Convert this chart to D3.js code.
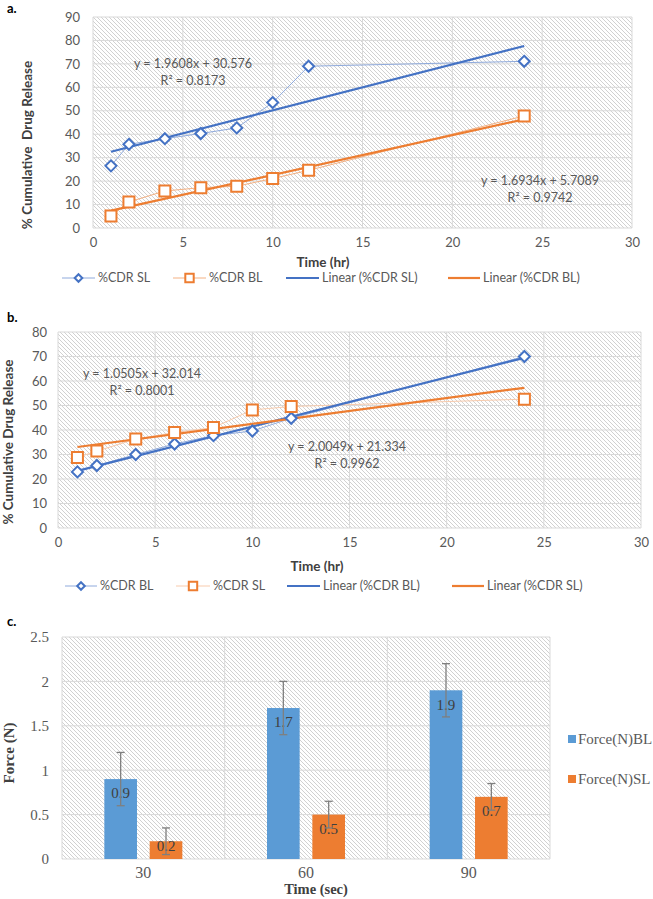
<!DOCTYPE html>
<html>
<head>
<meta charset="utf-8">
<script src="https://cdn.jsdelivr.net/npm/d3@7"></script>
<style>
  html, body { margin: 0; padding: 0; background: #fff; }
  svg { display: block; }
</style>
</head>
<body>
<svg id="chart" width="653" height="899"></svg>
<script>
// ---------- DATA ----------
// Panel a
const timeA = [1, 2, 4, 6, 8, 10, 12, 24];
const cdrSL_A = [26.5, 35.7, 38.1, 40.3, 42.7, 53.5, 69.0, 71.1];
const cdrBL_A = [5.1, 11.1, 15.8, 17.2, 17.8, 21.1, 24.6, 47.8];
const trendA = [
  { slope: 1.9608, intercept: 30.576, eq: "y = 1.9608x + 30.576", r2: "R² = 0.8173" },
  { slope: 1.6934, intercept: 5.7089, eq: "y = 1.6934x + 5.7089", r2: "R² = 0.9742" }
];
const legendA = ["%CDR SL", "%CDR BL", "Linear (%CDR SL)", "Linear (%CDR BL)"];

// Panel b
const timeB = [1, 2, 4, 6, 8, 10, 12, 24];
const cdrBL_B = [22.9, 25.5, 30.0, 34.3, 37.7, 39.6, 44.8, 70.0];
const cdrSL_B = [28.8, 31.4, 36.3, 39.0, 41.0, 48.2, 49.6, 52.6];
const trendB = [
  { slope: 2.0049, intercept: 21.334, eq: "y = 2.0049x + 21.334", r2: "R² = 0.9962" },
  { slope: 1.0505, intercept: 32.014, eq: "y = 1.0505x + 32.014", r2: "R² = 0.8001" }
];
const legendB = ["%CDR BL", "%CDR SL", "Linear (%CDR BL)", "Linear (%CDR SL)"];

const xTicksAB = [0, 5, 10, 15, 20, 25, 30];
const yTicksA = [0, 10, 20, 30, 40, 50, 60, 70, 80, 90];
const yTicksB = [0, 10, 20, 30, 40, 50, 60, 70, 80];

// Panel c
const timesC = ["30", "60", "90"];
const forceBL = [0.9, 1.7, 1.9];
const forceSL = [0.2, 0.5, 0.7];
const errBL = [0.3, 0.3, 0.3];
const errSL = [0.15, 0.15, 0.15];
const yTicksC = [0, 0.5, 1, 1.5, 2, 2.5];
const legendC = ["Force(N)BL", "Force(N)SL"];

// ---------- STYLE ----------
const BLUE = "#4472C4", ORANGE = "#ED7D31";
const BLUE_L = "#8FAADC", ORANGE_L = "#F4B183";
const BLUE_C = "#5B9BD5";
const TXT = "#595959";
const GRID = "#d9d9d9";
const SANS = "Lato, 'Open Sans', sans-serif";
const SERIF = "'Liberation Serif', 'DejaVu Serif', serif";

const svg = d3.select("#chart");
const defs = svg.append("defs");
const pat = defs.append("pattern").attr("id", "hatch")
  .attr("patternUnits", "userSpaceOnUse").attr("width", 4).attr("height", 4);
pat.append("rect").attr("width", 4).attr("height", 4).attr("fill", "#fff");
pat.append("path").attr("d", "M0,0 L4,4 M-1,3 L1,5 M3,-1 L5,1")
  .attr("stroke", "#cccccc").attr("stroke-width", 0.9);

function diamondPath(s) {
  return `M0,${-s} L${s},0 L0,${s} L${-s},0 Z`;
}
function squarePath(s) {
  return `M${-s},${-s} H${s} V${s} H${-s} Z`;
}

function scatterPanel(cfg) {
  const g = svg.append("g");
  const x = d3.scaleLinear().domain([0, 30]).range([cfg.left, cfg.right]);
  const y = d3.scaleLinear().domain([0, cfg.ymax]).range([cfg.bottom, cfg.top]);

  g.append("rect").attr("x", cfg.left).attr("y", cfg.top)
    .attr("width", cfg.right - cfg.left).attr("height", cfg.bottom - cfg.top)
    .attr("fill", "url(#hatch)");

  // gridlines
  g.append("g").selectAll("line").data(cfg.yTicks).join("line")
    .attr("x1", cfg.left).attr("x2", cfg.right)
    .attr("y1", d => y(d)).attr("y2", d => y(d))
    .attr("stroke", GRID).attr("stroke-width", 1);
  g.append("g").selectAll("line").data(xTicksAB).join("line")
    .attr("y1", cfg.top).attr("y2", cfg.bottom)
    .attr("x1", d => x(d)).attr("x2", d => x(d))
    .attr("stroke", GRID).attr("stroke-width", 1);

  // axes
  const ax = g.append("g").attr("transform", `translate(0,${cfg.bottom})`)
    .call(d3.axisBottom(x).tickValues(xTicksAB).tickSize(0).tickPadding(10));
  ax.select(".domain").remove();
  ax.selectAll("text").attr("fill", TXT).attr("font-family", SANS).attr("font-size", 13);
  const ay = g.append("g").attr("transform", `translate(${cfg.left},0)`)
    .call(d3.axisLeft(y).tickValues(cfg.yTicks).tickSize(0).tickPadding(cfg.ypad));
  ay.select(".domain").remove();
  ay.selectAll("text").attr("fill", TXT).attr("font-family", SANS).attr("font-size", 13);

  // series
  cfg.series.forEach(s => {
    const pts = s.xs.map((d, i) => [d, s.ys[i]]);
    g.append("path").datum(pts)
      .attr("d", d3.line().x(d => x(d[0])).y(d => y(d[1])))
      .attr("fill", "none").attr("stroke", s.light).attr("stroke-width", 1);
  });
  // trendlines
  cfg.series.forEach(s => {
    const x0 = d3.min(s.xs), x1 = d3.max(s.xs);
    g.append("line")
      .attr("x1", x(x0)).attr("y1", y(s.trend.slope * x0 + s.trend.intercept))
      .attr("x2", x(x1)).attr("y2", y(s.trend.slope * x1 + s.trend.intercept))
      .attr("stroke", s.color).attr("stroke-width", 2.2);
  });
  // markers
  cfg.series.forEach(s => {
    g.append("g").selectAll("path").data(s.xs.map((d, i) => [d, s.ys[i]])).join("path")
      .attr("transform", d => `translate(${x(d[0])},${y(d[1])})`)
      .attr("d", s.shape === "diamond" ? diamondPath(5.5) : squarePath(5.5))
      .attr("fill", "#fff").attr("stroke", s.color).attr("stroke-width", 2);
  });
  // equation labels
  cfg.series.forEach(s => {
    const t = g.append("text").attr("x", s.labelX).attr("y", s.labelY)
      .attr("text-anchor", "middle").attr("font-family", SANS).attr("font-size", 12.5)
      .attr("fill", TXT);
    t.append("tspan").attr("x", s.labelX).attr("dy", 0).text(s.trend.eq);
    t.append("tspan").attr("x", s.labelX).attr("dy", 17).text(s.trend.r2);
  });

  // titles
  g.append("text").attr("x", cfg.xTitleX).attr("y", cfg.xTitleY)
    .attr("text-anchor", "middle").attr("font-family", SANS).attr("font-weight", "bold")
    .attr("font-size", 13.5).attr("fill", "#404040").text("Time (hr)");
  g.append("text").attr("transform", `translate(${cfg.yTitleX},${cfg.yTitleY}) rotate(-90)`)
    .attr("text-anchor", "middle").attr("font-family", SANS).attr("font-weight", "bold")
    .attr("font-size", 13.5).attr("fill", "#404040").attr("xml:space", "preserve")
    .text(cfg.yTitle);
  g.append("text").attr("x", 7).attr("y", cfg.panelY)
    .attr("font-family", SANS).attr("font-weight", "bold").attr("font-size", 13)
    .attr("fill", "#000").text(cfg.panel);

  // legend
  const lg = g.append("g").attr("transform", `translate(0,${cfg.legendY})`);
  cfg.legend.forEach((name, i) => {
    const s = cfg.series[i % 2];
    const it = cfg.legendItems[i];
    if (i < 2) {
      lg.append("line").attr("x1", it.x0).attr("x2", it.x1).attr("y1", 0).attr("y2", 0)
        .attr("stroke", s.light).attr("stroke-width", 1);
      lg.append("path").attr("transform", `translate(${(it.x0 + it.x1) / 2},0)`)
        .attr("d", s.shape === "diamond" ? diamondPath(3.8) : squarePath(4.2))
        .attr("fill", "#fff").attr("stroke", s.color).attr("stroke-width", 2);
    } else {
      lg.append("line").attr("x1", it.x0).attr("x2", it.x1).attr("y1", 0).attr("y2", 0)
        .attr("stroke", s.color).attr("stroke-width", 2.2);
    }
    lg.append("text").attr("x", it.x1 + 3).attr("y", 0).attr("dy", "0.35em")
      .attr("font-family", SANS).attr("font-size", 12.5).attr("fill", TXT).text(name);
  });
}

scatterPanel({
  panel: "a.", panelY: 13,
  left: 93, right: 632, top: 17, bottom: 228, ymax: 90, yTicks: yTicksA, ypad: 13,
  xTitleX: 323, xTitleY: 267, yTitleX: 32, yTitleY: 145,
  yTitle: "% Cumulative  Drug Release",
  legendY: 278, legend: legendA,
  legendItems: [{ x0: 62, x1: 95 }, { x0: 173, x1: 206 }, { x0: 286, x1: 319 }, { x0: 448, x1: 480 }],
  series: [
    { xs: timeA, ys: cdrSL_A, color: BLUE, light: BLUE_L, shape: "diamond", trend: trendA[0], labelX: 193, labelY: 68 },
    { xs: timeA, ys: cdrBL_A, color: ORANGE, light: ORANGE_L, shape: "square", trend: trendA[1], labelX: 540, labelY: 185 }
  ]
});

scatterPanel({
  panel: "b.", panelY: 322,
  left: 58, right: 641, top: 332, bottom: 528, ymax: 80, yTicks: yTicksB, ypad: 11,
  xTitleX: 317, xTitleY: 571, yTitleX: 13, yTitleY: 442,
  yTitle: "% Cumulative Drug Release",
  legendY: 586, legend: legendB,
  legendItems: [{ x0: 65, x1: 97 }, { x0: 176, x1: 210 }, { x0: 287, x1: 320 }, { x0: 452, x1: 484 }],
  series: [
    { xs: timeB, ys: cdrBL_B, color: BLUE, light: BLUE_L, shape: "diamond", trend: trendB[0], labelX: 347, labelY: 451 },
    { xs: timeB, ys: cdrSL_B, color: ORANGE, light: "#F8CBAD", shape: "square", trend: trendB[1], labelX: 142, labelY: 378 }
  ]
});

// ---------- Panel c ----------
(function () {
  const left = 62, right = 550, top = 637, bottom = 859;
  const g = svg.append("g");
  const x0 = d3.scaleBand().domain(timesC).range([left, right]).padding(0);
  const x1 = d3.scaleBand().domain(["BL", "SL"]).range([-39, 39]).paddingInner(0.28);
  const y = d3.scaleLinear().domain([0, 2.5]).range([bottom, top]);

  g.append("rect").attr("x", left).attr("y", top).attr("width", right - left)
    .attr("height", bottom - top).attr("fill", "url(#hatch)");
  g.append("g").selectAll("line").data(yTicksC).join("line")
    .attr("x1", left).attr("x2", right).attr("y1", d => y(d)).attr("y2", d => y(d))
    .attr("stroke", GRID).attr("stroke-width", 1);
  const vb = [left, ...timesC.map(d => x0(d) + x0.bandwidth())];
  g.append("g").selectAll("line").data(vb).join("line")
    .attr("x1", d => d).attr("x2", d => d).attr("y1", top).attr("y2", bottom)
    .attr("stroke", GRID).attr("stroke-width", 1);

  const ax = g.append("g").attr("transform", `translate(0,${bottom})`)
    .call(d3.axisBottom(x0).tickSize(0).tickPadding(8));
  ax.select(".domain").remove();
  ax.selectAll("text").attr("fill", TXT).attr("font-family", SERIF).attr("font-size", 16);
  const ay = g.append("g").attr("transform", `translate(${left},0)`)
    .call(d3.axisLeft(y).tickValues(yTicksC).tickSize(0).tickPadding(13).tickFormat(d3.format("")));
  ay.select(".domain").remove();
  ay.selectAll("text").attr("fill", TXT).attr("font-family", SERIF).attr("font-size", 15);

  const series = [
    { key: "BL", vals: forceBL, err: errBL, color: BLUE_C },
    { key: "SL", vals: forceSL, err: errSL, color: ORANGE }
  ];
  series.forEach(s => {
    const data = timesC.map((t, i) => ({ t, v: s.vals[i], e: s.err[i] }));
    const cx = d => x0(d.t) + x0.bandwidth() / 2 + x1(s.key) + x1.bandwidth() / 2;
    g.append("g").selectAll("rect").data(data).join("rect")
      .attr("x", d => x0(d.t) + x0.bandwidth() / 2 + x1(s.key))
      .attr("width", x1.bandwidth())
      .attr("y", d => y(d.v)).attr("height", d => y(0) - y(d.v))
      .attr("fill", s.color);
    g.append("g").selectAll("text").data(data).join("text")
      .attr("x", cx).attr("y", d => Math.min(y(d.v) + 14, bottom - 13))
      .attr("dy", "0.35em")
      .attr("text-anchor", "middle").attr("font-family", SERIF).attr("font-size", 15)
      .attr("fill", "#404040").text(d => d.v);
    const eb = g.append("g").selectAll("g").data(data).join("g");
    eb.append("line").attr("x1", cx).attr("x2", cx)
      .attr("y1", d => y(d.v + d.e)).attr("y2", d => y(d.v - d.e))
      .attr("stroke", "#7f7f7f").attr("stroke-width", 1.3);
    eb.append("line").attr("x1", d => cx(d) - 4).attr("x2", d => cx(d) + 4)
      .attr("y1", d => y(d.v + d.e)).attr("y2", d => y(d.v + d.e))
      .attr("stroke", "#7f7f7f").attr("stroke-width", 1.3);
    eb.append("line").attr("x1", d => cx(d) - 4).attr("x2", d => cx(d) + 4)
      .attr("y1", d => y(d.v - d.e)).attr("y2", d => y(d.v - d.e))
      .attr("stroke", "#7f7f7f").attr("stroke-width", 1.3);
  });

  g.append("text").attr("x", 316).attr("y", 894)
    .attr("text-anchor", "middle").attr("font-family", SERIF).attr("font-weight", "bold")
    .attr("font-size", 14.5).attr("fill", "#404040").text("Time (sec)");
  g.append("text").attr("transform", `translate(14,753) rotate(-90)`)
    .attr("text-anchor", "middle").attr("font-family", SERIF).attr("font-weight", "bold")
    .attr("font-size", 15).attr("fill", "#404040").text("Force (N)");
  g.append("text").attr("x", 7).attr("y", 626)
    .attr("font-family", SANS).attr("font-weight", "bold").attr("font-size", 13)
    .attr("fill", "#000").text("c.");

  const lg = g.append("g");
  legendC.forEach((name, i) => {
    const yy = 739 + i * 40;
    lg.append("rect").attr("x", 568).attr("y", yy - 4).attr("width", 8).attr("height", 8)
      .attr("fill", series[i].color);
    lg.append("text").attr("x", 578).attr("y", yy).attr("dy", "0.35em")
      .attr("font-family", SERIF).attr("font-size", 15).attr("fill", TXT).text(name);
  });
})();
</script>
</body>
</html>
